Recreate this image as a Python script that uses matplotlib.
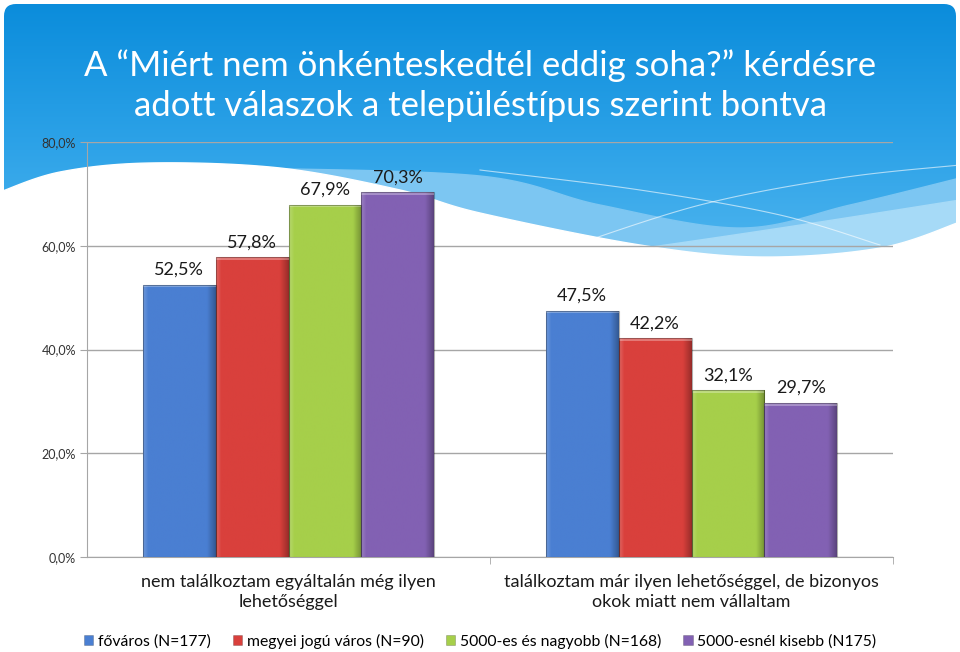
import numpy as np
import matplotlib.pyplot as plt
from matplotlib.patches import FancyBboxPatch, Patch, Rectangle
from matplotlib.colors import LinearSegmentedColormap, to_rgb

plt.rcParams['font.family'] = ['Lato', 'DejaVu Sans']

categories = ['nem találkoztam egyáltalán még ilyen\nlehetőséggel',
              'találkoztam már ilyen lehetőséggel, de bizonyos\nokok miatt nem vállaltam']
series = ['főváros (N=177)', 'megyei jogú város (N=90)',
          '5000-es és nagyobb (N=168)', '5000-esnél kisebb (N175)']
fovaros = [0.525, 0.475]
megyei = [0.578, 0.422]
nagyobb = [0.679, 0.321]
kisebb = [0.703, 0.297]
values = [fovaros, megyei, nagyobb, kisebb]
colors = ['#4a7fd2', '#d9403c', '#a6cf4a', '#8261b3']
title = 'A \u201cMiért nem önkénteskedtél eddig soha?\u201d kérdésre\nadott válaszok a településtípus szerint bontva'

W, H = 960, 652
fig = plt.figure(figsize=(W / 100, H / 100), dpi=100)
fig.patch.set_facecolor('white')


def smooth(pts, n=40):
    # catmull-rom through control points
    pts = np.array(pts, float)
    p = np.vstack([pts[0], pts, pts[-1]])
    out = []
    for i in range(1, len(p) - 2):
        t = np.linspace(0, 1, n)[:, None]
        p0, p1, p2, p3 = p[i - 1], p[i], p[i + 1], p[i + 2]
        out.append(0.5 * ((2 * p1) + (-p0 + p2) * t + (2 * p0 - 5 * p1 + 4 * p2 - p3) * t ** 2
                          + (-p0 + 3 * p1 - 3 * p2 + p3) * t ** 3))
    return np.vstack(out)


def mix(c, other, a):
    c, o = np.array(to_rgb(c)), np.array(to_rgb(other))
    return tuple(c * (1 - a) + o * a)


# background
bg = fig.add_axes([0, 0, 1, 1], zorder=-10)
bg.set_xlim(0, W)
bg.set_ylim(H, 0)
bg.axis('off')
frame = FancyBboxPatch((4, 4), W - 8, H - 8, boxstyle='round,pad=0,rounding_size=12',
                       transform=bg.transData, facecolor='none', edgecolor='none')
bg.add_patch(frame)
grad = np.linspace(0, 1, 256)[:, None]
cmap = LinearSegmentedColormap.from_list('b', ['#0a8cdb', '#2ea3e8', '#5bbcf1'])
im = bg.imshow(grad, extent=[0, W, 300, 0], cmap=cmap, aspect='auto', zorder=0)
im.set_clip_path(frame)

mid = smooth([(240, 168), (480, 176), (600, 205), (740, 228), (850, 205), (960, 178)])
mid = np.vstack([mid, [(960, 300), (240, 300)]])
bg.fill(mid[:, 0], mid[:, 1], color='#7cc6f2', zorder=1)
light = smooth([(560, 260), (700, 240), (820, 222), (960, 200)])
light = np.vstack([light, [(960, 300), (560, 300)]])
bg.fill(light[:, 0], light[:, 1], color='#a6daf7', zorder=2)
wave = smooth([(0, 192), (60, 172), (150, 163), (280, 168), (400, 190), (480, 213),
               (640, 245), (760, 257), (880, 248), (960, 222)])
wave = np.vstack([wave, [(960, H), (0, H)]])
bg.fill(wave[:, 0], wave[:, 1], color='white', zorder=3)
l1 = smooth([(480, 170), (640, 190), (780, 215), (880, 245)])
bg.plot(l1[:, 0], l1[:, 1], color='white', lw=0.8, alpha=0.6, zorder=2)
l2 = smooth([(560, 250), (700, 205), (840, 178), (960, 165)])
bg.plot(l2[:, 0], l2[:, 1], color='white', lw=0.8, alpha=0.6, zorder=2)
for p in bg.patches[1:] + bg.lines:
    p.set_clip_path(frame)

fig.text(0.5, 1 - 86 / H, title, ha='center', va='center', fontsize=25,
         color='white', linespacing=1.3)

# chart
ax = fig.add_axes([87 / W, 1 - 557 / H, 806 / W, 415 / H])
ax.patch.set_alpha(0)
x = np.arange(len(categories))
bw = 0.181
for i, vals in enumerate(values):
    bars = ax.bar(x + (i - 1.5) * bw, vals, bw, color=colors[i],
                  edgecolor='none', zorder=3)
    shade = LinearSegmentedColormap.from_list('s', [
        (0, mix(colors[i], 'white', 0.2)), (0.07, colors[i]),
        (0.88, colors[i]), (1, mix(colors[i], 'black', 0.3))])
    for b, v in zip(bars, vals):
        g = np.linspace(0, 1, 128)[None, :]
        gi = ax.imshow(g, cmap=shade, vmin=0, vmax=1, aspect='auto',
                       extent=[b.get_x(), b.get_x() + bw, 0, v], zorder=4,
                       interpolation='bilinear')
        gi.set_clip_path(b)
        ax.add_patch(Rectangle((b.get_x(), v - 0.005), bw, 0.005, color='white',
                               alpha=0.3, zorder=5, lw=0))
        ax.add_patch(Rectangle((b.get_x(), 0), bw, v, fill=False,
                               edgecolor='#00000050', lw=0.8, zorder=6))
        ax.annotate(f'{v * 100:.1f}%'.replace('.', ','), (b.get_x() + bw / 2, v),
                    xytext=(0, 5), textcoords='offset points', ha='center',
                    va='bottom', fontsize=13, color='#1a1a1a')

ax.set_xlim(-0.5, 1.5)
ax.set_ylim(0, 0.8)
ax.set_yticks([0, 0.2, 0.4, 0.6, 0.8])
ax.set_yticklabels(['0,0%', '20,0%', '40,0%', '60,0%', '80,0%'])
ax.yaxis.grid(True, color='#a6a6a6', lw=1, zorder=0)
ax.set_axisbelow(True)
ax.set_xticks(x)
ax.set_xticklabels(categories, fontsize=13, color='#1a1a1a', linespacing=1.35)
ax.set_xticks([0.5, 1.5], minor=True)
ax.tick_params(axis='x', which='major', length=0, pad=12)
ax.tick_params(axis='x', which='minor', length=5, color='#a6a6a6')
ax.tick_params(axis='y', length=5, color='#a6a6a6', labelsize=9,
               labelcolor='#333333', pad=3)
for s in ['top', 'right']:
    ax.spines[s].set_visible(False)
for s in ['left', 'bottom']:
    ax.spines[s].set_color('#a6a6a6')

handles = [Patch(facecolor=c, edgecolor='#00000044', lw=0.5) for c in colors]
fig.legend(handles, series, loc='center', bbox_to_anchor=(0.5, 1 - 641 / H),
           ncol=4, frameon=False, fontsize=11.3, handlelength=0.6, handleheight=0.6,
           handletextpad=0.3, columnspacing=1.4)

fig.savefig('out.png', dpi=100)
